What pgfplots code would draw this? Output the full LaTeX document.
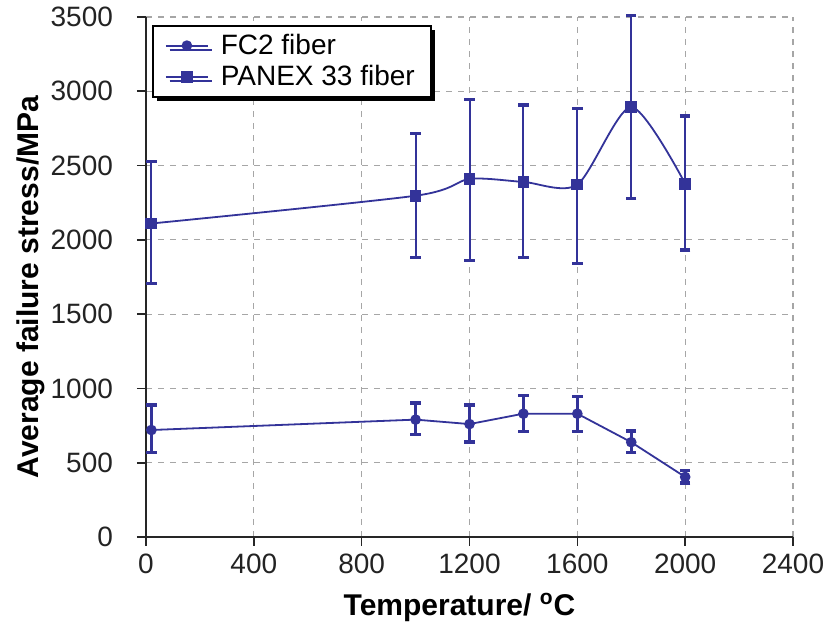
\documentclass[border=0pt]{standalone}
\usepackage{pgfplots}
\pgfplotsset{compat=1.18}
\usepackage{pgfplotstable}
\usepackage{fontspec}
\setmainfont{Liberation Sans}
\usetikzlibrary{shadows}
\definecolor{dblue}{RGB}{51,51,153}
\definecolor{tickgray}{RGB}{35,35,35}

\pgfplotstableread{
x y ep em
20 720 168 150
1000 790 112 100
1200 760 128 120
1400 830 125 118
1600 830 118 118
1800 638 75 72
2000 404 45 40
}\fctwo

\pgfplotstableread{
x y ep em
20 2110 420 405
1000 2297 418 415
1200 2410 536 548
1400 2390 517 508
1600 2372 513 530
1800 2894 616 617
2000 2378 455 446
}\panex

\begin{document}
\begin{tikzpicture}
\begin{axis}[
  name=ax,
  scale only axis,
  width=323.5pt, height=260pt,
  xmin=0, xmax=2400, ymin=0, ymax=3500,
  xtick={0,400,...,2400},
  ytick={0,500,...,3500},
  axis x line*=bottom, axis y line*=left,
  axis line style={-, line width=0.8pt, black!85},
  tick align=outside,
  major tick length=4.5pt,
  tick style={line width=0.8pt, black!85},
  grid=major,
  major grid style={dashed, gray!70, line width=0.6pt},
  /pgf/number format/assume math mode=true,
  /pgf/number format/1000 sep={},
  ticklabel style={font=\fontsize{14}{16}\selectfont, text=tickgray},
  xticklabel style={yshift=-0.5pt},
  yticklabel style={xshift=-8.5pt},
  xlabel={\textbf{Temperature/ \textsuperscript{o}C}},
  ylabel={\textbf{Average failure stress/MPa}},
  label style={font=\fontsize{15}{17}\selectfont},
  xlabel style={xshift=-5pt, yshift=-3pt},
  ylabel style={xshift=-5pt, yshift=-4pt},
  legend image code/.code={
    \draw[mark repeat=2, mark phase=2] plot coordinates {(0pt,0pt) (10.5pt,0pt) (21pt,0pt)};},
  legend style={at={(0,1)}, anchor=north west, xshift=3pt, yshift=-4pt,
    draw=black, line width=1pt, fill=white,
    drop shadow={shadow xshift=2pt, shadow yshift=-2pt, fill=black, opacity=1},
    font=\fontsize{14}{16}\selectfont, row sep=0pt,
    inner xsep=6pt, inner ysep=2pt,
    /tikz/every odd column/.append style={column sep=4pt}},
  legend cell align=left,
  clip=false,
]
\addplot[dblue, line width=0.9pt, mark=*, mark size=2.2pt, mark options={solid},
  error bars/.cd, y dir=both, y explicit,
  error bar style={line width=1.4pt, dblue},
  error mark options={rotate=90, mark size=2.6pt, line width=1.6pt, dblue}]
  table[x=x, y=y, y error plus=ep, y error minus=em] {\fctwo};
\addlegendentry{FC2 fiber}
\addplot[dblue, line width=0.9pt, smooth, tension=0.45, mark=square*, mark size=2.5pt, mark options={solid},
  error bars/.cd, y dir=both, y explicit,
  error bar style={line width=1pt, dblue},
  error mark options={rotate=90, mark size=2.6pt, line width=1.6pt, dblue}]
  table[x=x, y=y, y error plus=ep, y error minus=em] {\panex};
\addlegendentry{PANEX 33 fiber}
\end{axis}
\pgfresetboundingbox
\path ([xshift=-73pt, yshift=-46pt]ax.south west) rectangle ([xshift=18.5pt, yshift=8.5pt]ax.north east);
\end{tikzpicture}
\end{document}
